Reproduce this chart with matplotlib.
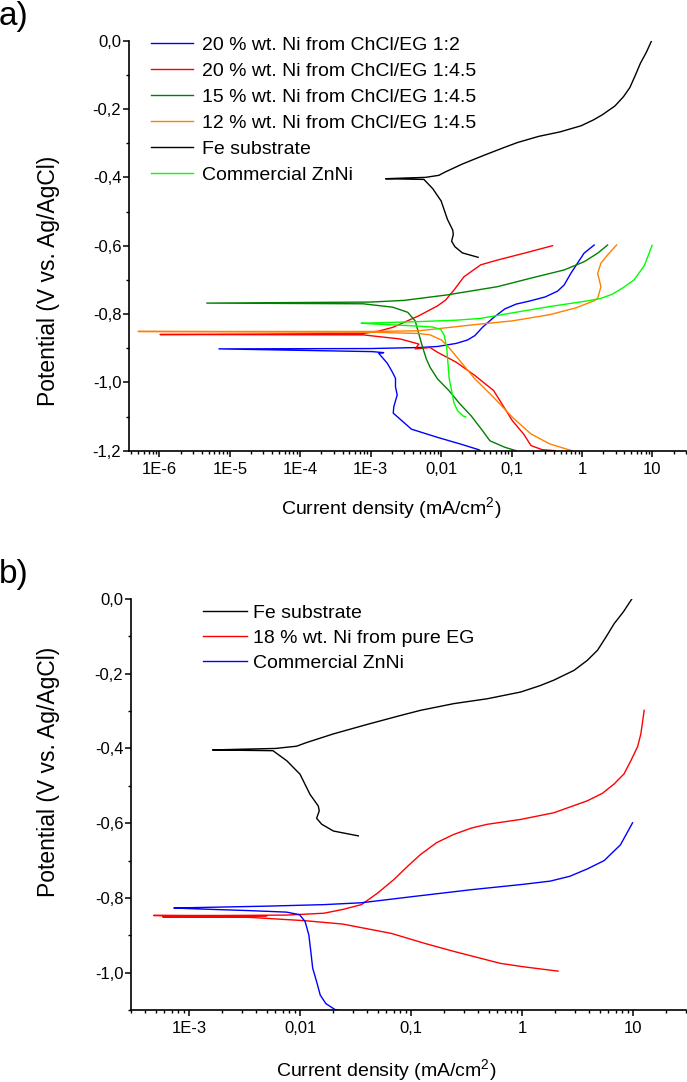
import matplotlib
matplotlib.use('Agg')
import matplotlib.pyplot as plt
from matplotlib.ticker import FixedLocator, LogLocator, MultipleLocator, FuncFormatter, NullFormatter

plt.rcParams['font.family'] = ['Liberation Sans', 'DejaVu Sans']
plt.rcParams['mathtext.fontset'] = 'custom'
plt.rcParams['mathtext.rm'] = 'Liberation Sans'

# ---- data: current density (mA/cm2) and potential (V vs Ag/AgCl), scan order ----
# Fe substrate (same scan in both panels)
fe_i = [0.0335, 0.0200, 0.0157, 0.0141, 0.0149, 0.0146, 0.0123, 0.0100, 0.0076, 0.0057,
        0.0030, 0.00163, 0.0030, 0.0060, 0.0093, 0.0115, 0.0200, 0.0399, 0.0798, 0.1216,
        0.243, 0.486, 0.971, 1.45, 1.94, 2.94, 3.88, 4.79, 5.7, 6.76, 8.2, 9.75]
fe_e = [-0.634, -0.621, -0.603, -0.587, -0.567, -0.554, -0.523, -0.469, -0.433, -0.406,
        -0.405, -0.404, -0.402, -0.400, -0.394, -0.384, -0.361, -0.336, -0.312, -0.298,
        -0.280, -0.267, -0.249, -0.232, -0.217, -0.191, -0.164, -0.137, -0.102, -0.066,
        -0.034, 0.0]

# 20 % wt. Ni from ChCl/EG 1:2
ni20a_i = [0.036, 0.0341, 0.0185, 0.0089, 0.00379, 0.00209, 0.00213, 0.00238, 0.00225, 0.00225,
           0.00202, 0.00172, 0.00130, 0.00153, 0.00105, 7e-6, 0.0010, 0.00484, 0.0089, 0.0164,
           0.0237, 0.0302, 0.0386, 0.0557, 0.0803, 0.116, 0.18, 0.30, 0.45, 0.558, 0.695,
           0.865, 1.07, 1.49]
ni20a_e = [-1.200, -1.197, -1.180, -1.161, -1.137, -1.090, -1.071, -1.037, -1.013, -0.988,
           -0.969, -0.944, -0.915, -0.913, -0.910, -0.902, -0.901, -0.898, -0.895, -0.886,
           -0.876, -0.863, -0.839, -0.810, -0.785, -0.771, -0.762, -0.750, -0.733, -0.715, -0.681,
           -0.651, -0.622, -0.598]

# 20 % wt. Ni from ChCl/EG 1:4.5
ni20b_i = [0.417, 0.272, 0.189, 0.148, 0.1026, 0.0557, 0.0302, 0.0164, 0.0089, 0.00698,
           0.00428, 0.00484, 0.00263, 0.00078, 1.02e-6, 7.8e-4, 0.0013, 0.00206, 0.00484, 0.0089,
           0.0116, 0.0152, 0.0211, 0.0365, 0.063, 0.151, 0.382]
ni20b_e = [-1.200, -1.197, -1.185, -1.151, -1.112, -1.024, -0.980, -0.941, -0.912, -0.898,
           -0.902, -0.888, -0.873, -0.861, -0.860, -0.857, -0.850, -0.839, -0.805, -0.776,
           -0.759, -0.730, -0.691, -0.656, -0.642, -0.622, -0.600]

# 15 % wt. Ni from ChCl/EG 1:4.5
ni15_i = [0.116, 0.0803, 0.0493, 0.0386, 0.0267, 0.0185, 0.0129, 0.0089, 0.00698, 0.00618,
          0.00547, 0.00484, 0.00428, 0.00336, 0.00206, 7.8e-4, 4.7e-6, 0.0010, 0.0030, 0.0122,
          0.063, 0.188, 0.558, 1.07, 1.67, 2.31]
ni15_e = [-1.200, -1.190, -1.171, -1.141, -1.098, -1.063, -1.024, -0.990, -0.956, -0.932,
          -0.898, -0.859, -0.820, -0.795, -0.780, -0.770, -0.768, -0.765, -0.760, -0.744,
          -0.720, -0.695, -0.671, -0.647, -0.622, -0.598]

# 12 % wt. Ni from ChCl/EG 1:4.5
ni12_i = [0.72, 0.347, 0.189, 0.1026, 0.0557, 0.0302, 0.0185, 0.0129, 0.0101, 0.00698,
          0.00484, 0.0010, 5e-7, 0.0010, 0.00484, 0.0089, 0.0302, 0.1026, 0.347, 0.817,
          1.50, 1.67, 1.86, 1.67, 1.86, 2.31, 3.10]
ni12_e = [-1.200, -1.180, -1.151, -1.102, -1.044, -0.990, -0.937, -0.898, -0.876, -0.861,
          -0.857, -0.853, -0.851, -0.851, -0.849, -0.843, -0.831, -0.820, -0.802, -0.782,
          -0.761, -0.754, -0.720, -0.681, -0.651, -0.627, -0.598]

# Commercial ZnNi (same scan in both panels)
znni_i = [0.0224, 0.0207, 0.0171, 0.0152, 0.0141, 0.0130, 0.0125, 0.0120, 0.0111, 0.0099,
          0.00755, 0.00347, 0.00108, 7.3e-4, 0.0016, 0.0051, 0.0164, 0.0357, 0.10, 0.35,
          1.0, 1.8, 2.7, 3.9, 5.5, 7.7, 9.9]
znni_e = [-1.101, -1.099, -1.083, -1.060, -1.024, -0.988, -0.943, -0.899, -0.863, -0.845,
          -0.838, -0.834, -0.829, -0.827, -0.825, -0.822, -0.818, -0.813, -0.797, -0.778,
          -0.764, -0.755, -0.742, -0.722, -0.700, -0.658, -0.599]

# 18 % wt. Ni from pure EG
ni18_i = [2.11, 1.01, 0.634, 0.249, 0.134, 0.0665, 0.0242, 0.0111, 0.00347, 0.0015,
          5.8e-4, 0.0050, 4.8e-4, 0.0020, 0.00755, 0.0164, 0.0242, 0.0357, 0.050, 0.070,
          0.095, 0.1216, 0.17, 0.243, 0.35, 0.486, 0.971, 1.94, 3.88, 5.3, 6.76, 8.3, 9.55,
          11.0, 11.76, 12.6]
ni18_e = [-0.996, -0.984, -0.975, -0.944, -0.922, -0.895, -0.870, -0.861, -0.852, -0.851,
          -0.851, -0.849, -0.847, -0.847, -0.846, -0.841, -0.831, -0.818, -0.787, -0.751,
          -0.713, -0.684, -0.652, -0.630, -0.613, -0.603, -0.590, -0.572, -0.540, -0.520,
          -0.495, -0.468, -0.433, -0.395, -0.361, -0.298]

labels_a = ['20 % wt. Ni from ChCl/EG 1:2', '20 % wt. Ni from ChCl/EG 1:4.5',
            '15 % wt. Ni from ChCl/EG 1:4.5', '12 % wt. Ni from ChCl/EG 1:4.5',
            'Fe substrate', 'Commercial ZnNi']
labels_b = ['Fe substrate', '18 % wt. Ni from pure EG', 'Commercial ZnNi']

xtick_names = {1e-6: '1E-6', 1e-5: '1E-5', 1e-4: '1E-4', 1e-3: '1E-3',
               1e-2: '0,01', 1e-1: '0,1', 1.0: '1', 10.0: '10'}

W, H = 687.0, 1082.0
fig = plt.figure(figsize=(W / 100, H / 100), dpi=100)


def xfmt(v, pos):
    for k in xtick_names:
        if abs(v - k) < k * 1e-6:
            return xtick_names[k]
    return ''


def yfmt(v, pos):
    if abs(v) < 1e-9:
        return '0,0'
    return ('%.1f' % v).replace('.', ',')


def style_axes(ax, xlim, ylim):
    ax.set_xscale('log')
    ax.set_xlim(*xlim)
    ax.set_ylim(*ylim)
    for s in ('top', 'right'):
        ax.spines[s].set_visible(False)
    for s in ('left', 'bottom'):
        ax.spines[s].set_linewidth(1.2)
    ax.xaxis.set_major_locator(FixedLocator(list(xtick_names.keys())))
    ax.xaxis.set_major_formatter(FuncFormatter(xfmt))
    ax.xaxis.set_minor_locator(LogLocator(base=10, subs=range(2, 10), numticks=20))
    ax.xaxis.set_minor_formatter(NullFormatter())
    ax.yaxis.set_major_locator(MultipleLocator(0.2))
    ax.yaxis.set_minor_locator(MultipleLocator(0.1))
    ax.yaxis.set_major_formatter(FuncFormatter(yfmt))
    ax.tick_params(which='major', direction='out', length=4, width=1.1, labelsize=12)
    ax.tick_params(which='minor', direction='out', length=2.3, width=1.0)
    ax.tick_params(axis='x', which='major', pad=4)
    ax.tick_params(axis='y', which='major', pad=1.5)


# ---- panel a ----
axA = fig.add_axes([129 / W, 1 - 450.7 / H, (686 - 129) / W, 410 / H])
axA.plot(ni20a_i, ni20a_e, color='#0000ff', lw=1.0, label=labels_a[0])
axA.plot(ni20b_i, ni20b_e, color='#ff0000', lw=1.0, label=labels_a[1])
axA.plot(ni15_i, ni15_e, color='#008000', lw=1.0, label=labels_a[2])
axA.plot(ni12_i, ni12_e, color='#ff8000', lw=1.0, label=labels_a[3])
axA.plot(fe_i, fe_e, color='black', lw=1.0, label=labels_a[4])
axA.plot(znni_i, znni_e, color='#00ff00', lw=1.0, label=labels_a[5])
style_axes(axA, (3.7e-7, 30), (-1.2, 0.0))
axA.legend(loc='upper left', bbox_to_anchor=(151 / W, 1 - 36.5 / H), bbox_transform=fig.transFigure,
           frameon=False, fontsize=14, handlelength=2.15, handletextpad=0.45,
           labelspacing=0.43, borderpad=0, borderaxespad=0)

# ---- panel b ----
axB = fig.add_axes([131 / W, 1 - 1010 / H, (686 - 131) / W, 411 / H])
axB.plot(fe_i, fe_e, color='black', lw=1.0, label=labels_b[0])
axB.plot(ni18_i, ni18_e, color='#ff0000', lw=1.0, label=labels_b[1])
axB.plot(znni_i, znni_e, color='#0000ff', lw=1.0, label=labels_b[2])
style_axes(axB, (3e-4, 30), (-1.1, 0.0))
axB.legend(loc='upper left', bbox_to_anchor=(203 / W, 1 - 604 / H), bbox_transform=fig.transFigure,
           frameon=False, fontsize=14, handlelength=2.25, handletextpad=0.33,
           labelspacing=0.38, borderpad=0, borderaxespad=0)

# ---- labels ----
xlab = 'Current density (mA/cm$^{\\mathregular{2}}$)'
ylab = 'Potential (V vs. Ag/AgCl)'
fig.text(391 / W, 1 - 515 / H, xlab, ha='center', va='baseline', fontsize=14)
fig.text(386 / W, 1 - 1076.7 / H, xlab, ha='center', va='baseline', fontsize=14)
fig.text(49 / W, 1 - 281 / H, ylab, ha='center', va='center', rotation=90, fontsize=16.5)
fig.text(49 / W, 1 - 772 / H, ylab, ha='center', va='center', rotation=90, fontsize=16.5)
fig.text(-0.002, 1 - 1 / H, 'a)', ha='left', va='top', fontsize=24)
fig.text(-0.002, 1 - 559 / H, 'b)', ha='left', va='top', fontsize=24)

fig.savefig('out.png', dpi=100)
